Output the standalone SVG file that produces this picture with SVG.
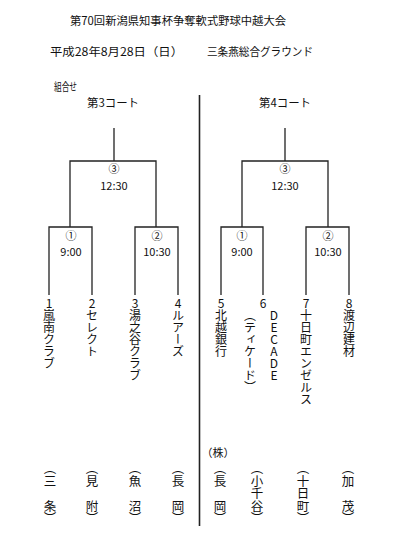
<svg xmlns="http://www.w3.org/2000/svg" width="400" height="538" viewBox="0 0 400 538">
<style>
text{font-family:"Noto Sans CJK JP","Liberation Sans",sans-serif;fill:#111;}
.h{font-size:11.5px;}
.c{font-size:11px;text-anchor:middle;}
.t{font-size:11px;text-anchor:middle;}
.v{font-size:12px;writing-mode:vertical-rl;text-orientation:upright;}
.m{font-size:12px;writing-mode:vertical-rl;text-orientation:mixed;}
.b{font-size:12.5px;writing-mode:vertical-rl;text-orientation:mixed;}
.ln{stroke:#222;stroke-width:1.3;fill:none;}
</style>
<rect width="400" height="538" fill="#fff"/>
<g id="header">
<text class="h" x="70" y="25" textLength="216" lengthAdjust="spacingAndGlyphs">第70回新潟県知事杯争奪軟式野球中越大会</text>
<text class="h" x="50" y="56" textLength="133" lengthAdjust="spacingAndGlyphs">平成28年8月28日（日）</text>
<text class="h" x="207" y="56" textLength="106" lengthAdjust="spacingAndGlyphs">三条燕総合グラウンド</text>
<text class="h" x="54" y="91" textLength="23" lengthAdjust="spacingAndGlyphs">組合せ</text>
<text class="h" x="87" y="107" textLength="52" lengthAdjust="spacingAndGlyphs">第3コート</text>
<text class="h" x="259" y="107" textLength="52" lengthAdjust="spacingAndGlyphs">第4コート</text>
</g>
<g id="connectors">
<line x1="199.5" y1="95" x2="199.5" y2="526" stroke="#222" stroke-width="1.6"/>
<path class="ln" d="M114 128V161M70 227V161H156V227M49 295V227H92V295M135 295V227H178V295"/>
<path class="ln" d="M285 128V161M242 227V161H328V227M221 295V227H263V295M306 295V227H349V295"/>
</g>
<g id="court3-final"><text class="c" x="114" y="173">③</text><text class="t" x="114" y="190">12:30</text></g>
<g id="court3-m1"><text class="c" x="71" y="240">①</text><text class="t" x="71" y="256">9:00</text></g>
<g id="court3-m2"><text class="c" x="157" y="240">②</text><text class="t" x="157" y="256">10:30</text></g>
<g id="court4-final"><text class="c" x="285" y="173">③</text><text class="t" x="285" y="190">12:30</text></g>
<g id="court4-m1"><text class="c" x="242" y="240">①</text><text class="t" x="242" y="256">9:00</text></g>
<g id="court4-m2"><text class="c" x="328" y="240">②</text><text class="t" x="328" y="256">10:30</text></g>
<g id="team1"><text class="v" x="49" y="297">1</text><text class="m" x="49" y="309">嵐南クラブ</text><text class="b" x="50" y="462">（三　条）</text></g>
<g id="team2"><text class="v" x="92" y="297">2</text><text class="m" x="92" y="309">セレクト</text><text class="b" x="92" y="462">（見　附）</text></g>
<g id="team3"><text class="v" x="135" y="297">3</text><text class="m" x="135" y="309">湯之谷クラブ</text><text class="b" x="135" y="462">（魚　沼）</text></g>
<g id="team4"><text class="v" x="178" y="297">4</text><text class="m" x="178" y="309">ルアーズ</text><text class="b" x="178" y="462">（長　岡）</text></g>
<g id="team5"><text class="v" x="221" y="297">5</text><text class="m" x="221" y="309">北越銀行</text><text x="218" y="457" style="font-size:11px;text-anchor:middle">（株）</text><text class="b" x="220" y="462">（長　岡）</text></g>
<g id="team6"><text class="v" x="263" y="297">6</text><text class="v" x="274" y="309">DECADE</text><text class="m" x="250" y="309">（ティケード）</text><text class="b" x="257" y="462">（小千谷）</text></g>
<g id="team7"><text class="v" x="306" y="297">7</text><text class="m" x="306" y="309">十日町エンゼルス</text><text class="b" x="303" y="462">（十日町）</text></g>
<g id="team8"><text class="v" x="349" y="297">8</text><text class="m" x="349" y="309">渡辺建材</text><text class="b" x="348" y="462">（加　茂）</text></g>
</svg>
